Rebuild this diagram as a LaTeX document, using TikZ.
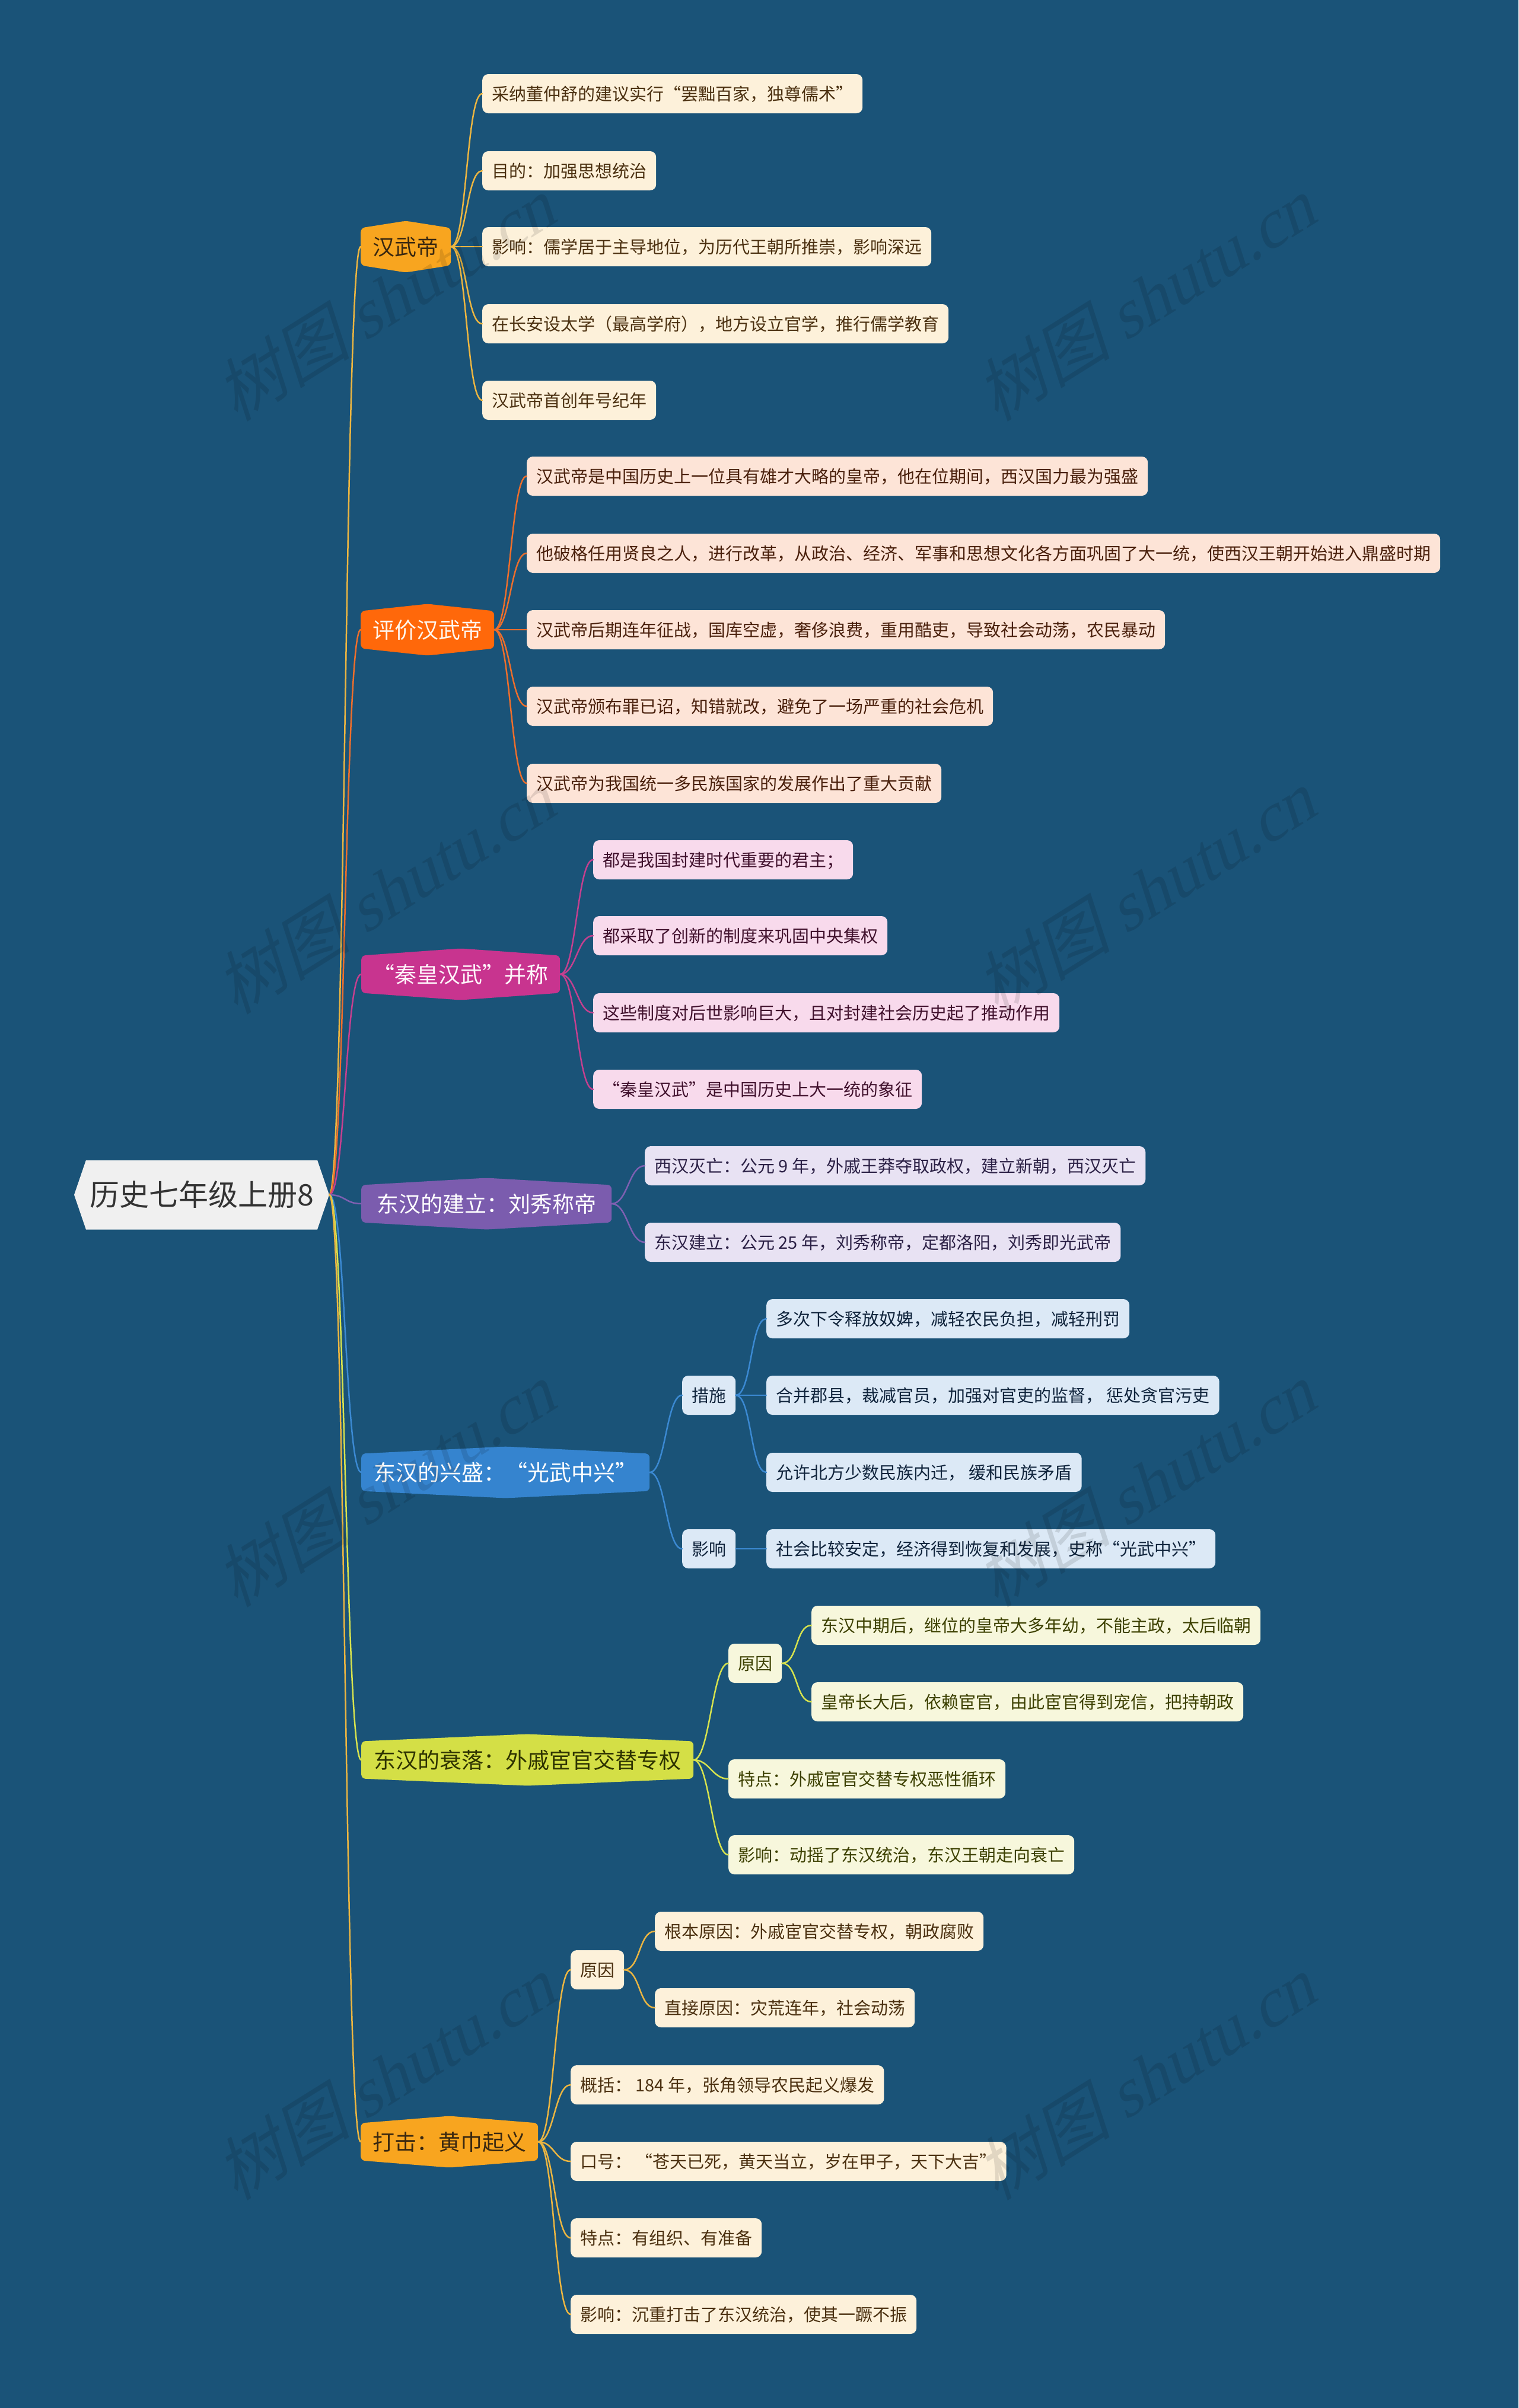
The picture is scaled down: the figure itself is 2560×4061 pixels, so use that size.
\documentclass[tikz,border=0pt]{standalone}
\usepackage{fontspec}
\setmainfont{Noto Sans CJK SC}
\newfontfamily\wmlat{Liberation Serif}[FakeSlant=0.25]
\newfontfamily\wmcjk{Noto Sans CJK SC}[FakeSlant=0.25]
\definecolor{bgc}{HTML}{1A5378}
\definecolor{rootF}{HTML}{F0F0F0}
\definecolor{rootT}{HTML}{333333}
\definecolor{oF}{HTML}{F8A51F}\definecolor{oT}{HTML}{3A2810}\definecolor{oL}{HTML}{EBB541}\definecolor{oLF}{HTML}{FDF1DA}\definecolor{oLT}{HTML}{4B3010}
\definecolor{rF}{HTML}{FF680A}\definecolor{rT}{HTML}{FFF5EC}\definecolor{rL}{HTML}{EC6E2C}\definecolor{rLF}{HTML}{FDE4D7}\definecolor{rLT}{HTML}{4A200C}
\definecolor{mF}{HTML}{C8348F}\definecolor{mT}{HTML}{FFF5FA}\definecolor{mL}{HTML}{C4408F}\definecolor{mLF}{HTML}{F8DAEC}\definecolor{mLT}{HTML}{40102C}
\definecolor{pF}{HTML}{7B5CAE}\definecolor{pT}{HTML}{FFFFFF}\definecolor{pL}{HTML}{7E60B2}\definecolor{pLF}{HTML}{E8E2F3}\definecolor{pLT}{HTML}{2B2045}
\definecolor{bF}{HTML}{3584CF}\definecolor{bT}{HTML}{FFFFFF}\definecolor{bL}{HTML}{3B89D2}\definecolor{bLF}{HTML}{DCE9F6}\definecolor{bLT}{HTML}{10243C}
\definecolor{yF}{HTML}{D4DF46}\definecolor{yT}{HTML}{2E3300}\definecolor{yL}{HTML}{D6E24E}\definecolor{yLF}{HTML}{F7F7DC}\definecolor{yLT}{HTML}{3C4000}
\begin{document}
\begin{tikzpicture}[x=1pt,y=-1pt,
  rootnode/.style={minimum width=430pt, minimum height=117pt, inner sep=0pt, text=rootT,
    font=\fontsize{50}{50}\selectfont,
    path picture={\fill[rootF] (path picture bounding box.west) -- ([xshift=20pt]path picture bounding box.north west) -- ([xshift=-20pt]path picture bounding box.north east) -- (path picture bounding box.east) -- ([xshift=-20pt]path picture bounding box.south east) -- ([xshift=20pt]path picture bounding box.south west) -- cycle;}},
  branch/.style 2 args={anchor=west, minimum height=87pt, inner xsep=0pt, inner ysep=0pt, text=#2,
    font=\fontsize{37}{37}\selectfont, text height=32.5pt, text depth=4.5pt,
    path picture={\fill[#1, rounded corners=7pt] ([yshift=-12pt]path picture bounding box.north west) -- (path picture bounding box.north) -- ([yshift=-12pt]path picture bounding box.north east) -- ([yshift=12pt]path picture bounding box.south east) -- (path picture bounding box.south) -- ([yshift=12pt]path picture bounding box.south west) -- cycle;}},
  leaf/.style 2 args={anchor=west, rounded corners=10pt, fill=#1, text=#2, minimum height=66pt,
    inner xsep=16pt, inner ysep=0pt, text height=25.5pt, text depth=3.5pt,
    font=\fontsize{29}{29}\selectfont},
  link/.style={line width=2.5pt, line cap=round,
    to path={.. controls ([xshift=27pt]\tikztostart) and ([xshift=-27pt]\tikztotarget) .. (\tikztotarget)}},
  wm/.style={opacity=0.11, text=black, rotate=32, font=\fontsize{115}{115}\selectfont}
]
\useasboundingbox (0,0) rectangle (2560,4061);
\fill[bgc] (0,0) rectangle (2560,4061);

% root
\node[rootnode] (root) at (340,2015) {历史七年级上册8};

% level 1
\node[branch={oF}{oT}, minimum width=152pt] (b1) at (608,416) {汉武帝};
\node[branch={rF}{rT}, minimum width=225pt] (b2) at (608,1062) {评价汉武帝};
\node[branch={mF}{mT}, minimum width=335pt] (b3) at (609,1643) {“秦皇汉武”并称};
\node[branch={pF}{pT}, minimum width=422pt] (b4) at (609,2030) {东汉的建立：刘秀称帝};
\node[branch={bF}{bT}, minimum width=486pt] (b5) at (609,2483) {东汉的兴盛：“光武中兴”};
\node[branch={yF}{yT}, minimum width=560pt] (b6) at (609,2968) {东汉的衰落：外戚宦官交替专权};
\node[branch={oF}{oT}, minimum width=299pt] (b7) at (608,3612) {打击：黄巾起义};

% b1 leaves
\node[leaf={oLF}{oLT}] (a1) at (813,158) {采纳董仲舒的建议实行“罢黜百家，独尊儒术”};
\node[leaf={oLF}{oLT}] (a2) at (813,288) {目的：加强思想统治};
\node[leaf={oLF}{oLT}] (a3) at (813,416) {影响：儒学居于主导地位，为历代王朝所推崇，影响深远};
\node[leaf={oLF}{oLT}] (a4) at (813,546) {在长安设太学（最高学府），地方设立官学，推行儒学教育};
\node[leaf={oLF}{oLT}] (a5) at (813,675) {汉武帝首创年号纪年};

% b2 leaves
\node[leaf={rLF}{rLT}] (c1) at (888,803) {汉武帝是中国历史上一位具有雄才大略的皇帝，他在位期间，西汉国力最为强盛};
\node[leaf={rLF}{rLT}] (c2) at (888,933) {他破格任用贤良之人，进行改革，从政治、经济、军事和思想文化各方面巩固了大一统，使西汉王朝开始进入鼎盛时期};
\node[leaf={rLF}{rLT}] (c3) at (888,1062) {汉武帝后期连年征战，国库空虚，奢侈浪费，重用酷吏，导致社会动荡，农民暴动};
\node[leaf={rLF}{rLT}] (c4) at (888,1191) {汉武帝颁布罪已诏，知错就改，避免了一场严重的社会危机};
\node[leaf={rLF}{rLT}] (c5) at (888,1321) {汉武帝为我国统一多民族国家的发展作出了重大贡献};

% b3 leaves
\node[leaf={mLF}{mLT}] (d1) at (1000,1450) {都是我国封建时代重要的君主；};
\node[leaf={mLF}{mLT}] (d2) at (1000,1578) {都采取了创新的制度来巩固中央集权};
\node[leaf={mLF}{mLT}] (d3) at (1000,1708) {这些制度对后世影响巨大，且对封建社会历史起了推动作用};
\node[leaf={mLF}{mLT}] (d4) at (1000,1837) {“秦皇汉武”是中国历史上大一统的象征};

% b4 leaves
\node[leaf={pLF}{pLT}] (e1) at (1087,1966) {西汉灭亡：公元 9 年，外戚王莽夺取政权，建立新朝，西汉灭亡};
\node[leaf={pLF}{pLT}] (e2) at (1087,2095) {东汉建立：公元 25 年，刘秀称帝，定都洛阳，刘秀即光武帝};

% b5
\node[leaf={bLF}{bLT}] (f1) at (1150,2353) {措施};
\node[leaf={bLF}{bLT}] (f2) at (1150,2612) {影响};
\node[leaf={bLF}{bLT}] (f11) at (1292,2224) {多次下令释放奴婢，减轻农民负担，减轻刑罚};
\node[leaf={bLF}{bLT}] (f12) at (1292,2353) {合并郡县，裁减官员，加强对官吏的监督， 惩处贪官污吏};
\node[leaf={bLF}{bLT}] (f13) at (1292,2483) {允许北方少数民族内迁， 缓和民族矛盾};
\node[leaf={bLF}{bLT}] (f21) at (1292,2612) {社会比较安定，经济得到恢复和发展，史称“光武中兴”};

% b6
\node[leaf={yLF}{yLT}] (g1) at (1228,2805) {原因};
\node[leaf={yLF}{yLT}] (g11) at (1368,2741) {东汉中期后，继位的皇帝大多年幼，不能主政，太后临朝};
\node[leaf={yLF}{yLT}] (g12) at (1368,2870) {皇帝长大后，依赖宦官，由此宦官得到宠信，把持朝政};
\node[leaf={yLF}{yLT}] (g2) at (1228,3000) {特点：外戚宦官交替专权恶性循环};
\node[leaf={yLF}{yLT}] (g3) at (1228,3128) {影响：动摇了东汉统治，东汉王朝走向衰亡};

% b7
\node[leaf={oLF}{oLT}] (h1) at (962,3322) {原因};
\node[leaf={oLF}{oLT}] (h11) at (1104,3257) {根本原因：外戚宦官交替专权，朝政腐败};
\node[leaf={oLF}{oLT}] (h12) at (1104,3386) {直接原因：灾荒连年，社会动荡};
\node[leaf={oLF}{oLT}] (h2) at (962,3516) {概括： 184 年，张角领导农民起义爆发};
\node[leaf={oLF}{oLT}] (h3) at (962,3645) {口号： “苍天已死，黄天当立，岁在甲子，天下大吉”};
\node[leaf={oLF}{oLT}] (h4) at (962,3774) {特点：有组织、有准备};
\node[leaf={oLF}{oLT}] (h5) at (962,3903) {影响：沉重打击了东汉统治，使其一蹶不振};

% connectors
\draw[link, oL] (root.east) to (b1.west);
\draw[link, rL] (root.east) to (b2.west);
\draw[link, mL] (root.east) to (b3.west);
\draw[link, pL] (root.east) to (b4.west);
\draw[link, bL] (root.east) to (b5.west);
\draw[link, yL] (root.east) to (b6.west);
\draw[link, oL] (root.east) to (b7.west);

\foreach \n in {a1,a2,a3,a4,a5} \draw[link, oL] (b1.east) to (\n.west);
\foreach \n in {c1,c2,c3,c4,c5} \draw[link, rL] (b2.east) to (\n.west);
\foreach \n in {d1,d2,d3,d4} \draw[link, mL] (b3.east) to (\n.west);
\foreach \n in {e1,e2} \draw[link, pL] (b4.east) to (\n.west);
\foreach \n in {f1,f2} \draw[link, bL] (b5.east) to (\n.west);
\foreach \n in {f11,f12,f13} \draw[link, bL] (f1.east) to (\n.west);
\draw[link, bL] (f2.east) to (f21.west);
\foreach \n in {g1,g2,g3} \draw[link, yL] (b6.east) to (\n.west);
\foreach \n in {g11,g12} \draw[link, yL] (g1.east) to (\n.west);
\foreach \n in {h1,h2,h3,h4,h5} \draw[link, oL] (b7.east) to (\n.west);
\foreach \n in {h11,h12} \draw[link, oL] (h1.east) to (\n.west);

% watermarks
\foreach \wx/\wy [count=\i] in {648/505,1930/505,648/1505,1930/1505,648/2505,1930/2505,648/3505,1930/3505}
  \node[wm] (wm\i) at (\wx,\wy) {{\wmcjk 树图} {\wmlat shutu.cn}};
\end{tikzpicture}
\end{document}
